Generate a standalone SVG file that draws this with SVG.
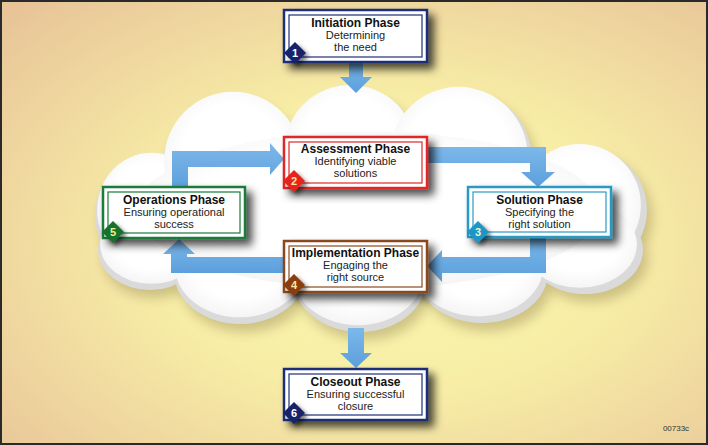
<svg xmlns="http://www.w3.org/2000/svg" width="708" height="445" viewBox="0 0 708 445">
<style>
.t{font-family:"Liberation Sans",Arial,sans-serif;font-weight:bold;font-size:12px;fill:#111;text-anchor:middle}
.s{font-family:"Liberation Sans",Arial,sans-serif;font-size:11px;fill:#222;text-anchor:middle}
.n{font-family:"Liberation Sans",Arial,sans-serif;font-weight:bold;font-size:11px;text-anchor:middle}
.box{fill:#fff;stroke-width:2.5}
.inner{fill:none;stroke-width:1.2}
.arrow{fill:url(#ag)}
</style>
<defs>
<radialGradient id="bg" cx="0.55" cy="0.55" r="0.75">
<stop offset="0" stop-color="#fbf7ae"/>
<stop offset="0.45" stop-color="#f7eda6"/>
<stop offset="1" stop-color="#e8c498"/>
</radialGradient>
<linearGradient id="ag" x1="0" y1="0" x2="0" y2="1">
<stop offset="0" stop-color="#7cb8ea"/>
<stop offset="1" stop-color="#5c9fdc"/>
</linearGradient>
<radialGradient id="cg" cx="0.5" cy="0.45" r="0.6">
<stop offset="0.6" stop-color="#ffffff"/>
<stop offset="1" stop-color="#f2f2f2"/>
</radialGradient>
<filter id="sh" x="-20%" y="-30%" width="150%" height="180%">
<feDropShadow dx="6" dy="6" stdDeviation="4" flood-color="#000" flood-opacity="0.7"/>
</filter>
<filter id="dsh" x="-50%" y="-50%" width="220%" height="220%">
<feDropShadow dx="3" dy="3" stdDeviation="2" flood-color="#000" flood-opacity="0.5"/>
</filter>
<filter id="cb" x="-10%" y="-10%" width="120%" height="130%">
<feGaussianBlur stdDeviation="6"/>
</filter>
<g id="cloud">
<ellipse cx="150" cy="215" rx="55" ry="58"/>
<ellipse cx="150" cy="250" rx="52" ry="40"/>
<circle cx="233" cy="165" r="70"/>
<circle cx="352" cy="155" r="67"/>
<circle cx="462" cy="160" r="70"/>
<circle cx="585" cy="210" r="62"/>
<ellipse cx="585" cy="250" rx="58" ry="44"/>
<ellipse cx="482" cy="272" rx="66" ry="51"/>
<ellipse cx="360" cy="280" rx="66" ry="52"/>
<ellipse cx="240" cy="272" rx="66" ry="52"/>
<ellipse cx="370" cy="215" rx="235" ry="80"/>
</g>
</defs>
<rect x="1" y="1" width="706" height="443" fill="url(#bg)" stroke="#2a2a2a" stroke-width="2"/>
<g id="cloud-shape">
<use href="#cloud" fill="#6a5a30" opacity="0.3" filter="url(#cb)" transform="translate(5,8)"/>
<use href="#cloud" fill="#dadada"/>
<use href="#cloud" fill="url(#cg)" transform="translate(368,210) scale(0.985) translate(-370,-215)"/>
</g>
<g id="connectors">
<path class="arrow" d="M349,60 V77 H340 L356,93 L372,77 H363 V60 Z"/>
<path class="arrow" d="M172,190 V151 H270 V143 L284,159 L270,175 V167 H188 V190 Z"/>
<path class="arrow" d="M425,147 H546 V172 H555 L538,187 L521,172 H530 V163 H425 Z"/>
<path class="arrow" d="M546,234 V273 H442 V282 L427,266 L442,250 V257 H530 V234 Z"/>
<path class="arrow" d="M286,257 H187 V254 H195 L179,239 L163,254 H171 V273 H286 Z"/>
<path class="arrow" d="M348,328 V353 H340 L356,368 L372,353 H364 V328 Z"/>
</g>
<g id="initiation">
<rect class="box" x="284" y="10" width="143" height="52" stroke="#1f2f78" filter="url(#sh)"/>
<rect class="inner" x="289" y="15" width="133" height="42" stroke="#1f2f78"/>
<text class="t" x="355.5" y="27">Initiation Phase</text>
<text class="s" x="355.5" y="39">Determining</text>
<text class="s" x="355.5" y="51">the need</text>
<path d="M295,42 L306,53 L295,64 L284,53 Z" fill="#13236a" filter="url(#dsh)"/>
<text class="n" x="295" y="57" fill="#fff">1</text>
</g>
<g id="assessment">
<rect class="box" x="284" y="137" width="143" height="51" stroke="#e02828" filter="url(#sh)"/>
<rect class="inner" x="289" y="142" width="133" height="41" stroke="#e02828"/>
<text class="t" x="355.5" y="153">Assessment Phase</text>
<text class="s" x="355.5" y="165">Identifying viable</text>
<text class="s" x="355.5" y="177">solutions</text>
<path d="M294,170 L305,181 L294,192 L283,181 Z" fill="#e8201a" filter="url(#dsh)"/>
<text class="n" x="294" y="185" fill="#ffe6a0">2</text>
</g>
<g id="operations">
<rect class="box" x="103" y="187" width="142" height="51" stroke="#1a7a3a" filter="url(#sh)"/>
<rect class="inner" x="108" y="192" width="132" height="41" stroke="#1a7a3a"/>
<text class="t" x="174" y="204">Operations Phase</text>
<text class="s" x="174" y="216">Ensuring operational</text>
<text class="s" x="174" y="228">success</text>
<path d="M113,221 L124,232 L113,243 L102,232 Z" fill="#16722a" filter="url(#dsh)"/>
<text class="n" x="113" y="236" fill="#f0f090">5</text>
</g>
<g id="solution">
<rect class="box" x="468" y="187" width="143" height="50" stroke="#2a9ac4" filter="url(#sh)"/>
<rect class="inner" x="473" y="192" width="133" height="40" stroke="#2a9ac4"/>
<text class="t" x="539.5" y="204">Solution Phase</text>
<text class="s" x="539.5" y="216">Specifying the</text>
<text class="s" x="539.5" y="228">right solution</text>
<path d="M478,221 L489,232 L478,243 L467,232 Z" fill="#1a96c6" filter="url(#dsh)"/>
<text class="n" x="478" y="236" fill="#f4f4c0">3</text>
</g>
<g id="implementation">
<rect class="box" x="284" y="241" width="143" height="51" stroke="#8a4a1e" filter="url(#sh)"/>
<rect class="inner" x="289" y="246" width="133" height="41" stroke="#8a4a1e"/>
<text class="t" x="355.5" y="257">Implementation Phase</text>
<text class="s" x="355.5" y="269">Engaging the</text>
<text class="s" x="355.5" y="281">right source</text>
<path d="M294,274 L305,285 L294,296 L283,285 Z" fill="#8a3c0c" filter="url(#dsh)"/>
<text class="n" x="294" y="289" fill="#ffe6a0">4</text>
</g>
<g id="closeout">
<rect class="box" x="284" y="369" width="143" height="51" stroke="#1f2f78" filter="url(#sh)"/>
<rect class="inner" x="289" y="374" width="133" height="41" stroke="#1f2f78"/>
<text class="t" x="355.5" y="386">Closeout Phase</text>
<text class="s" x="355.5" y="398">Ensuring successful</text>
<text class="s" x="355.5" y="410">closure</text>
<path d="M294,402 L305,413 L294,424 L283,413 Z" fill="#13236a" filter="url(#dsh)"/>
<text class="n" x="294" y="417" fill="#fff">6</text>
</g>
<text x="676" y="431" font-family="'Liberation Sans',Arial,sans-serif" font-size="8" fill="#333" text-anchor="middle">00733c</text>
</svg>
